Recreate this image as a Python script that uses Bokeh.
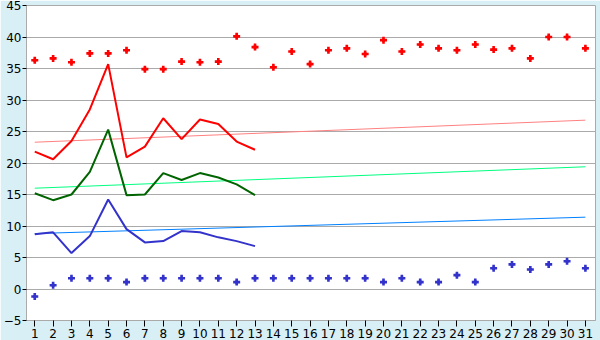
from bokeh.plotting import figure
from bokeh.models import Range1d, FixedTicker
from bokeh.embed import file_html
from bokeh.resources import INLINE

days = list(range(1, 32))
days13 = list(range(1, 14))

max_points = [36.3, 36.6, 36.0, 37.4, 37.4, 37.9, 34.9, 34.9, 36.1, 36.0,
              36.1, 40.1, 38.4, 35.2, 37.7, 35.7, 37.9, 38.2, 37.3, 39.5,
              37.7, 38.8, 38.2, 37.9, 38.8, 38.0, 38.2, 36.6, 40.0, 40.0, 38.2]
min_points = [-1.2, 0.6, 1.7, 1.7, 1.7, 1.1, 1.7, 1.7, 1.7, 1.7,
              1.7, 1.1, 1.7, 1.7, 1.7, 1.7, 1.7, 1.7, 1.7, 1.1,
              1.7, 1.1, 1.1, 2.2, 1.1, 3.3, 3.9, 3.1, 3.9, 4.4, 3.3]
red_line = [21.8, 20.6, 23.5, 28.5, 35.7, 20.9, 22.6, 27.1, 23.8, 26.9, 26.2, 23.4, 22.1]
green_line = [15.2, 14.1, 15.0, 18.6, 25.3, 14.9, 15.0, 18.4, 17.3, 18.4, 17.7, 16.6, 14.9]
blue_line = [8.7, 9.0, 5.7, 8.4, 14.2, 9.5, 7.4, 7.6, 9.2, 9.0, 8.2, 7.6, 6.8]

trend_days = [1, 31]
red_trend = [23.3, 26.8]
green_trend = [16.0, 19.4]
blue_trend = [8.8, 11.4]

y_ticks = [-5, 0, 5, 10, 15, 20, 25, 30, 35, 40, 45]

bg = "#d9eff6"
grid = "#aaaaaa"

p = figure(width=600, height=340, output_backend="svg", toolbar_location=None,
           x_range=Range1d(0.55, 31.55), y_range=Range1d(-5, 45),
           min_border_left=21, min_border_right=5, min_border_top=5, min_border_bottom=20)
p.border_fill_color = bg
p.background_fill_color = "white"
p.outline_line_color = grid
p.outline_line_width = 1

p.xgrid.grid_line_color = None
p.ygrid.grid_line_color = grid
p.ygrid.ticker = FixedTicker(ticks=y_ticks)

for ax in (p.xaxis[0], p.yaxis[0]):
    ax.axis_line_color = grid
    ax.major_tick_line_color = "black"
    ax.minor_tick_line_color = None
    ax.major_label_text_font = "DejaVu Sans"
    ax.major_label_text_font_size = "12px"
    ax.major_label_text_color = "black"
    ax.major_tick_in = 0

p.xaxis.ticker = FixedTicker(ticks=days)
p.xaxis.major_tick_out = 6
p.xaxis.major_label_standoff = 2
p.yaxis.ticker = FixedTicker(ticks=y_ticks)
p.yaxis.major_tick_out = 4
p.yaxis.major_label_standoff = 1

p.line(trend_days, red_trend, line_color="#ff8080", line_width=1)
p.line(trend_days, green_trend, line_color="#00ff80", line_width=1)
p.line(trend_days, blue_trend, line_color="#0080ff", line_width=1)

p.line(days13, red_line, line_color="#ff0000", line_width=2)
p.line(days13, green_line, line_color="#006400", line_width=2)
p.line(days13, blue_line, line_color="#3333cc", line_width=2)

for vals, col in ((max_points, "#ff0000"), (min_points, "#3333cc")):
    p.scatter(days, vals, marker="plus", size=7, fill_color=col, line_color=col, line_width=0)
    p.scatter(days, vals, marker="square", size=3, fill_color=col, line_color=col, line_width=0)

open("out.html", "w").write(file_html(p, INLINE))
